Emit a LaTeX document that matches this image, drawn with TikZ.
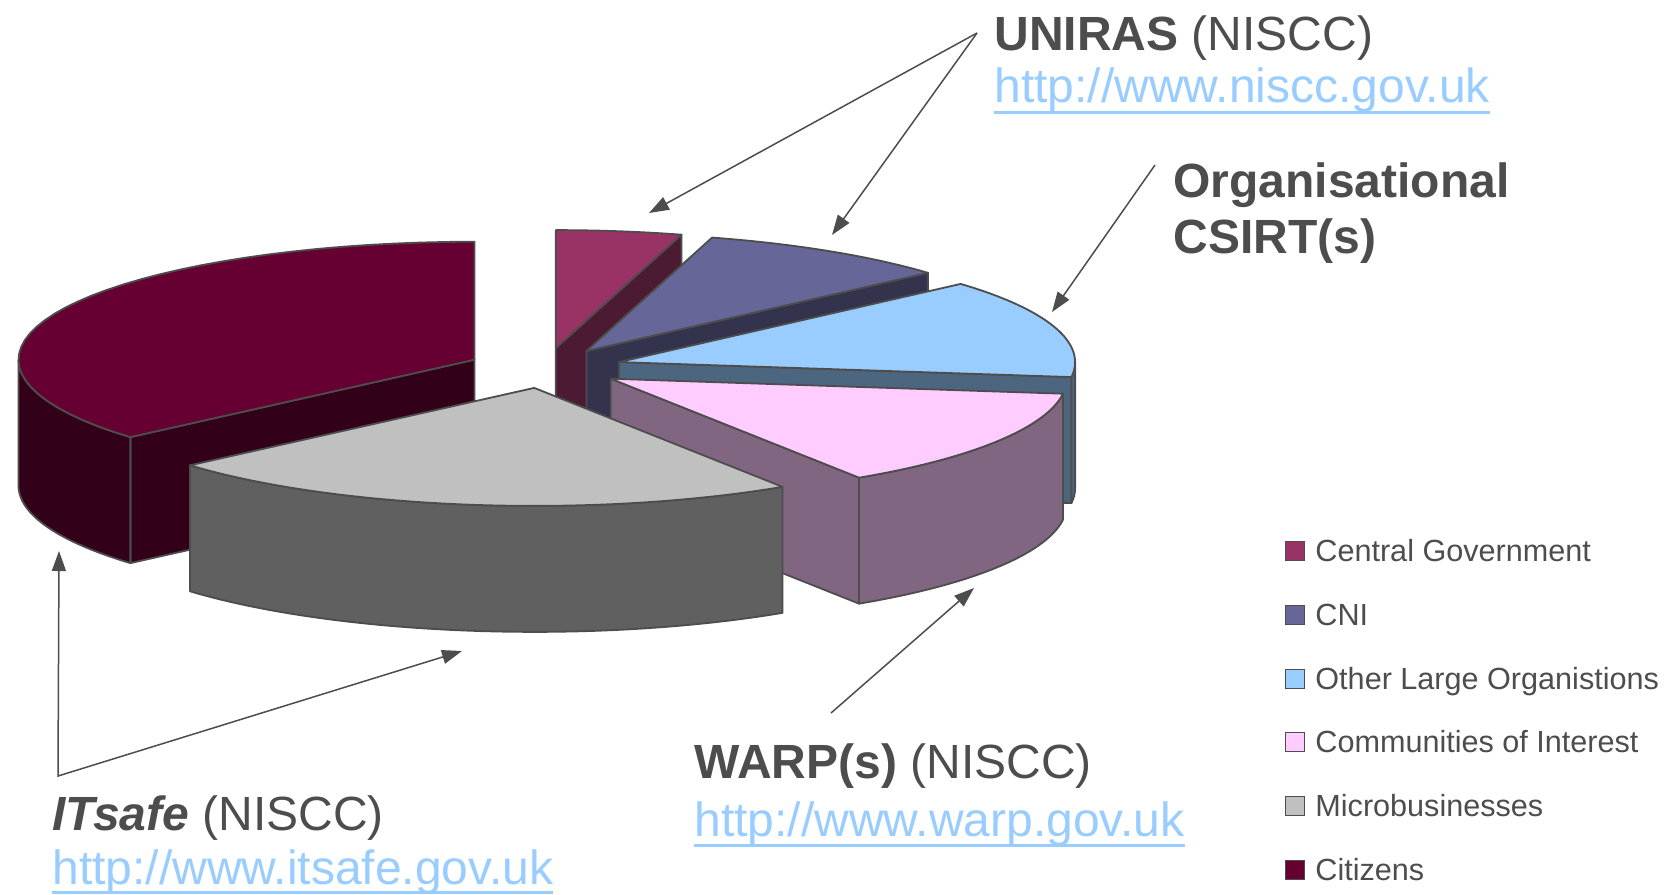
\documentclass[tikz,border=0pt]{standalone}
\usepackage{fontspec}
\setmainfont{Liberation Sans}
\usetikzlibrary{arrows.meta,calc}
\definecolor{txt}{HTML}{4D4D4D}
\definecolor{lnk}{HTML}{99CCFF}
\definecolor{edge}{HTML}{4D4D4D}
\definecolor{cgTop}{HTML}{993366}\definecolor{cgSide}{HTML}{4D1A33}
\definecolor{cniTop}{HTML}{666699}\definecolor{cniSide}{HTML}{33334D}
\definecolor{olTop}{HTML}{99CCFF}\definecolor{olSide}{HTML}{4D6680}
\definecolor{coTop}{HTML}{FFCCFF}\definecolor{coSide}{HTML}{806680}
\definecolor{mbTop}{HTML}{C0C0C0}\definecolor{mbSide}{HTML}{606060}
\definecolor{ciTop}{HTML}{660033}\definecolor{ciSide}{HTML}{33001A}
% radial face: cx cy angle colour
\newcommand\pieRad[4]{\filldraw[face,fill=#4] (#1,#2) -- ({#1+456*cos(#3)},{#2+118*sin(#3)}) -- ({#1+456*cos(#3)},{#2+126+118*sin(#3)}) -- (#1,{#2+126}) -- cycle;}
% outer face: cx cy a b colour
\newcommand\pieOut[5]{\filldraw[face,fill=#5] plot[domain=#3:#4,samples=40] ({#1+456*cos(\x)},{#2+118*sin(\x)}) -- plot[domain=#4:#3,samples=40] ({#1+456*cos(\x)},{#2+126+118*sin(\x)}) -- cycle;}
% top face: cx cy a b colour
\newcommand\pieTop[5]{\filldraw[face,fill=#5] (#1,#2) -- plot[domain=#3:#4,samples=40] ({#1+456*cos(\x)},{#2+118*sin(\x)}) -- cycle;}
\begin{document}
\begin{tikzpicture}[x=0.5pt,y=-0.5pt,
  face/.style={draw=edge,line width=0.9pt,line join=round},
  arr/.style={draw=edge,line width=0.75pt,-{Triangle[length=10pt,width=7pt]}},
  arrboth/.style={draw=edge,line width=0.75pt,{Triangle[length=10pt,width=7pt]}-{Triangle[length=10pt,width=7pt]}},
  title/.style={anchor=base west,inner sep=0pt,text=txt,font=\fontsize{24pt}{29pt}\selectfont},
  link/.style={anchor=base west,inner sep=0pt,text=lnk,font=\fontsize{24pt}{29pt}\selectfont},
  uline/.style={draw=lnk,line width=1.5pt},
  legbox/.style={draw=edge,line width=0.5pt},
  legtext/.style={anchor=base west,inner sep=0pt,text=txt,font=\fontsize{15.3pt}{18pt}\selectfont}]
\useasboundingbox (0,0) rectangle (1673,894);

% ---- pie (back to front) ----
% Citizens
\pieRad{474.5}{359.7}{139}{ciSide}
\pieOut{474.5}{359.7}{139}{180}{ciSide}
\pieTop{474.5}{359.7}{139}{270}{ciTop}
% Central Government
\pieRad{555.8}{348.1}{-74}{cgSide}
\pieTop{555.8}{348.1}{-90}{-74}{cgTop}
% CNI
\pieRad{586.4}{351.0}{-41.5}{cniSide}
\pieTop{586.4}{351.0}{-74}{-41.5}{cniTop}
% Other Large Organisations
\pieRad{619.1}{362.1}{7.3}{olSide}
\pieOut{619.1}{362.1}{0}{7.3}{olSide}
\pieTop{619.1}{362.1}{-41.5}{7.3}{olTop}
% Communities of Interest
\pieRad{610.7}{378.7}{57}{coSide}
\pieOut{610.7}{378.7}{7.3}{57}{coSide}
\pieTop{610.7}{378.7}{7.3}{57}{coTop}
% Microbusinesses
\pieOut{534.2}{387.9}{57}{139}{mbSide}
\pieTop{534.2}{387.9}{57}{139}{mbTop}

% ---- labels ----
\node[title] (uniras) at (994,50) {\bfseries UNIRAS\mdseries{} (NISCC)};
\node[link] (unirasl) at (994,102) {http://www.niscc.gov.uk};
\draw[uline] ($(unirasl.base west)+(0,10)$) -- ($(unirasl.base east)+(0,10)$);

\node[title] (org1) at (1173,197) {\bfseries Organisational};
\node[title] (org2) at (1173,253) {\bfseries CSIRT(s)};

\node[title] (warp) at (694,778) {\bfseries WARP(s)\mdseries{} (NISCC)};
\node[link] (warpl) at (694,836) {http://www.warp.gov.uk};
\draw[uline] ($(warpl.base west)+(0,9)$) -- ($(warpl.base east)+(0,9)$);

\node[title] (itsafe) at (52,830) {\bfseries\itshape ITsafe\mdseries\upshape{} (NISCC)};
\node[link] (itsafel) at (52,884) {http://www.itsafe.gov.uk};
\draw[uline] ($(itsafel.base west)+(0,8)$) -- ($(itsafel.base east)+(0,8)$);

% ---- connectors ----
\coordinate (uv) at (977,33);
\coordinate (ut1) at (649,213);
\coordinate (ut2) at (832,235);
\draw[arr] (uv) -- (ut1);
\draw[arr] (uv) -- (ut2);
\coordinate (oa) at (1155,165);
\coordinate (ot) at (1052,312);
\draw[arr] (oa) -- (ot);
\coordinate (wa) at (831,713);
\coordinate (wt) at (974,588);
\draw[arr] (wa) -- (wt);
\coordinate (it1) at (59,551);
\coordinate (ic) at (58,776);
\coordinate (it2) at (462,651);
\draw[arrboth,line join=miter] (it1) -- (ic) -- (it2);

% ---- legend ----
\foreach \i/\c/\t in {0/cgTop/Central Government,1/cniTop/CNI,2/olTop/Other Large Organistions,3/coTop/Communities of Interest,4/mbTop/Microbusinesses,5/ciTop/Citizens}{
  \pgfmathsetmacro\yc{551+63.8*\i}
  \filldraw[legbox,fill=\c] (1285,\yc-9.5) rectangle (1304,\yc+9.5);
  \node[legtext] (leg\i) at (1315,\yc+10.5) {\t};
}
\end{tikzpicture}
\end{document}
